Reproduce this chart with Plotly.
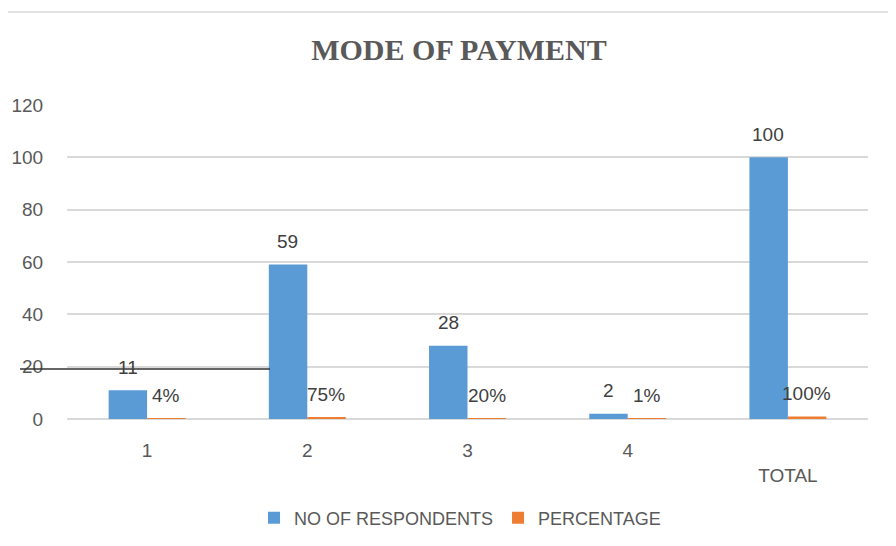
import plotly.graph_objects as go

categories = ["1", "2", "3", "4", "TOTAL"]
tick_labels = ["1", "2", "3", "4", "<br>TOTAL"]
respondents = [11, 59, 28, 2, 100]
percentage = [0.04, 0.75, 0.20, 0.01, 1.00]
percentage_labels = ["4%", "75%", "20%", "1%", "100%"]

BLUE = "#5B9BD5"
ORANGE = "#ED7D31"
TXT = "#595959"
LBL = "#404040"
FONT = "Liberation Sans, Arial, sans-serif"

# page has an 8px body margin; layout numbers below are in page pixels
OFF = 8
W, H = 896 - OFF, 546 - OFF
P_LEFT, P_RIGHT, P_TOP, P_BOTTOM = 67, 868, 105, 419
L = P_LEFT - OFF
R = W - (P_RIGHT - OFF)
T = P_TOP - OFF
B = H - (P_BOTTOM - OFF)
pw, ph = P_RIGHT - P_LEFT, P_BOTTOM - P_TOP

def px(xp):
    return (xp - P_LEFT) / pw

def py(yp):
    return (P_BOTTOM - yp) / ph

idx = list(range(len(categories)))

fig = go.Figure()
fig.add_trace(go.Bar(
    x=idx, y=respondents, name="NO OF RESPONDENTS",
    marker=dict(color=BLUE, line=dict(width=0)),
))
fig.add_trace(go.Bar(
    x=idx, y=percentage, name="PERCENTAGE",
    marker=dict(color=ORANGE, line=dict(width=0)),
))

annotations = []
for i, v in zip(idx, respondents):
    annotations.append(dict(x=i, y=v, xref="x", yref="y", text=str(v), showarrow=False,
                            xanchor="center", yanchor="middle", xshift=-19.5, yshift=23,
                            font=dict(family=FONT, size=19, color=LBL)))
for i, v, t in zip(idx, percentage, percentage_labels):
    annotations.append(dict(x=i, y=v, xref="x", yref="y", text=t, showarrow=False,
                            xanchor="center", yanchor="middle", xshift=19, yshift=23,
                            font=dict(family=FONT, size=19, color=LBL)))

fig.update_layout(
    width=W, height=H,
    margin=dict(l=L, r=R, t=T, b=B, autoexpand=False),
    paper_bgcolor="white", plot_bgcolor="white",
    barmode="group", bargap=0.52, bargroupgap=0,
    title=dict(text="<b>MODE OF PAYMENT</b>", x=(459 - OFF) / W, xanchor="center",
               y=1 - (49 - OFF) / H, yanchor="middle",
               font=dict(family="Liberation Serif, Times New Roman, serif", size=30, color=TXT)),
    showlegend=True,
    legend=dict(orientation="h", x=px(460), xanchor="center", y=py(518), yanchor="middle",
                font=dict(family=FONT, size=18, color=TXT), itemwidth=30,
                bgcolor="rgba(0,0,0,0)"),
    xaxis=dict(tickmode="array", tickvals=idx, ticktext=tick_labels,
               range=[-0.5, len(idx) - 0.5],
               tickfont=dict(family=FONT, size=19, color=TXT),
               showgrid=False, showline=False, zeroline=False,
               ticks="outside", ticklen=14, tickcolor="rgba(0,0,0,0)"),
    yaxis=dict(range=[0, 120], dtick=20, tickfont=dict(family=FONT, size=19, color=TXT),
               showgrid=True, gridcolor="#D9D9D9", gridwidth=1.5,
               zeroline=True, zerolinecolor="#D9D9D9", zerolinewidth=1.5,
               showline=False, ticks="outside", ticklen=19, tickcolor="rgba(0,0,0,0)"),
    annotations=annotations,
    shapes=[
        dict(type="rect", xref="paper", yref="paper",
             x0=px(7), x1=px(910), y0=py(12), y1=py(560),
             line=dict(color="#D9D9D9", width=1.5), fillcolor="rgba(0,0,0,0)", layer="below"),
        dict(type="line", xref="paper", yref="paper",
             x0=px(20), x1=px(270), y0=py(369), y1=py(369),
             line=dict(color="#333333", width=1.5)),
    ],
)

fig.write_html("out.html")
